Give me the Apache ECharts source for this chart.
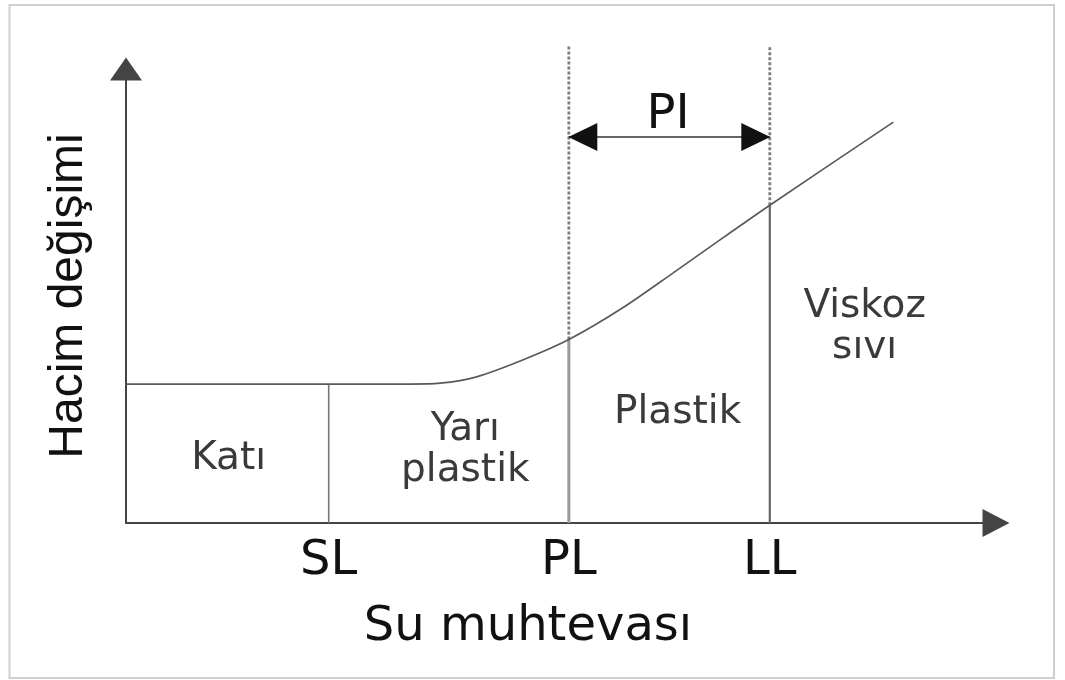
<!DOCTYPE html>
<html lang="tr">
<head>
<meta charset="utf-8">
<title>Kıvam limitleri</title>
<script src="https://cdn.jsdelivr.net/npm/echarts@6/dist/echarts.min.js"></script>
<style>
  html, body { margin: 0; padding: 0; background: #fff; }
  #chart { width: 1065px; height: 680px; }
</style>
</head>
<body>
<div id="chart"></div>
<script>
// Consistency limits along the water-content axis (schematic units)
const limitNames = ['SL', 'PL', 'LL'];
const limitX = [23.3, 50.9, 74.0];
// Height of the volume-change curve at each limit
const limitY = [30.6, 40.4, 70.0];
// Top of the dotted extensions above PL and LL
const dashTop = 105;
// Height of the PI span arrow
const piY = 85;

// Volume change vs. water content
const curveX = [0, 32.6, 36.1, 40.3, 45.6, 50.9, 57.1, 62.9, 68.6, 74.0, 88.2];
const curveY = [30.6, 30.6, 30.8, 32.2, 35.9, 40.4, 47.4, 55.1, 62.8, 70.0, 88.3];

// State labels inside each region, and the PI label
const regionNames = ['Katı', 'Yarı\nplastik', 'Plastik', 'Viskoz\nsıvı'];
const regionX = [11.8, 39.0, 63.4, 84.9];
const regionY = [14.1, 16.0, 24.2, 43.0];
const piLabel = 'PI';
const piLabelPos = [62.3, 89.7];

const xName = 'Su muhtevası';
const yName = 'Hacim değişimi';

const chart = echarts.init(document.getElementById('chart'), null, { renderer: 'canvas' });

const solidColors = ['#777', '#9a9a9a', '#666'];
const solidWidths = [1.6, 3, 2.2];

const limitSeries = limitX.map((x, i) => ({
  type: 'line',
  name: limitNames[i],
  data: [[x, 0], [x, limitY[i]]],
  symbol: 'none',
  silent: true,
  lineStyle: { color: solidColors[i], width: solidWidths[i] },
  z: 3
}));

const dashSeries = limitX.slice(1).map((x, j) => ({
  type: 'line',
  data: [[x, limitY[j + 1]], [x, dashTop]],
  symbol: 'none',
  silent: true,
  clip: false,
  lineStyle: { color: '#7d7d7d', width: 2.8, type: [3, 2] },
  z: 2
}));

const labelSeries = (names, xs, ys, textStyle) => ({
  type: 'scatter',
  silent: true,
  symbolSize: 0,
  itemStyle: { opacity: 1 },
  data: names.map((n, i) => ({ name: n, value: [xs[i], ys[i]] })),
  label: Object.assign({
    show: true,
    position: 'inside',
    formatter: (p) => p.name,
    align: 'center',
    verticalAlign: 'middle',
    opacity: 1
  }, textStyle),
  z: 6
});

const option = {
  backgroundColor: '#ffffff',
  animation: false,
  graphic: [{
    type: 'rect',
    silent: true,
    shape: { x: 9.5, y: 5, width: 1044.5, height: 673 },
    style: { fill: 'none', stroke: '#cfcfcf', lineWidth: 2 }
  }],
  grid: { left: 126, right: 69, top: 69, bottom: 157 },
  xAxis: {
    type: 'value',
    min: 0,
    max: 100,
    splitLine: { show: false },
    axisTick: { show: false },
    axisLine: {
      show: true,
      lineStyle: { color: '#444', width: 2 },
      symbol: ['none', 'triangle'],
      symbolSize: [28, 27]
    },
    axisLabel: {
      customValues: limitX,
      formatter: (v) => {
        const i = limitX.indexOf(v);
        return i >= 0 ? limitNames[i] : '';
      },
      fontFamily: 'DejaVu Sans',
      fontSize: 48,
      color: '#111',
      margin: 15
    },
    name: xName,
    nameLocation: 'middle',
    nameGap: 81,
    nameTextStyle: {
      fontFamily: 'DejaVu Sans',
      fontSize: 48,
      color: '#111',
      padding: [0, 66, 0, 0]
    }
  },
  yAxis: {
    type: 'value',
    min: 0,
    max: 100,
    splitLine: { show: false },
    axisTick: { show: false },
    axisLabel: { show: false },
    axisLine: {
      show: true,
      lineStyle: { color: '#444', width: 2 },
      symbol: ['none', 'triangle'],
      symbolSize: [32, 23]
    },
    name: yName,
    nameLocation: 'middle',
    nameGap: 33,
    nameTextStyle: {
      fontFamily: 'Liberation Sans',
      fontSize: 48,
      color: '#111'
    }
  },
  series: [
    {
      type: 'line',
      name: 'curve',
      data: curveX.map((x, i) => [x, curveY[i]]),
      smooth: 0.3,
      symbol: 'none',
      silent: true,
      lineStyle: { color: '#5a5a5a', width: 1.7 },
      z: 4
    },
    ...limitSeries,
    ...dashSeries,
    {
      type: 'line',
      name: 'PI',
      data: [
        { value: [limitX[1], piY], symbolRotate: 90, symbolOffset: [14, 0] },
        { value: [limitX[2], piY], symbolRotate: -90, symbolOffset: [-14, 0] }
      ],
      symbol: 'triangle',
      symbolSize: [28, 29],
      showSymbol: true,
      silent: true,
      itemStyle: { color: '#111' },
      lineStyle: { color: '#333', width: 1.5 },
      z: 5
    },
    labelSeries(regionNames, regionX, regionY, {
      fontFamily: 'DejaVu Sans',
      fontSize: 39,
      lineHeight: 41,
      color: '#3a3a3a'
    }),
    labelSeries([piLabel], [piLabelPos[0]], [piLabelPos[1]], {
      fontFamily: 'DejaVu Sans',
      fontSize: 48,
      color: '#111'
    })
  ]
};

chart.setOption(option);
</script>
</body>
</html>
